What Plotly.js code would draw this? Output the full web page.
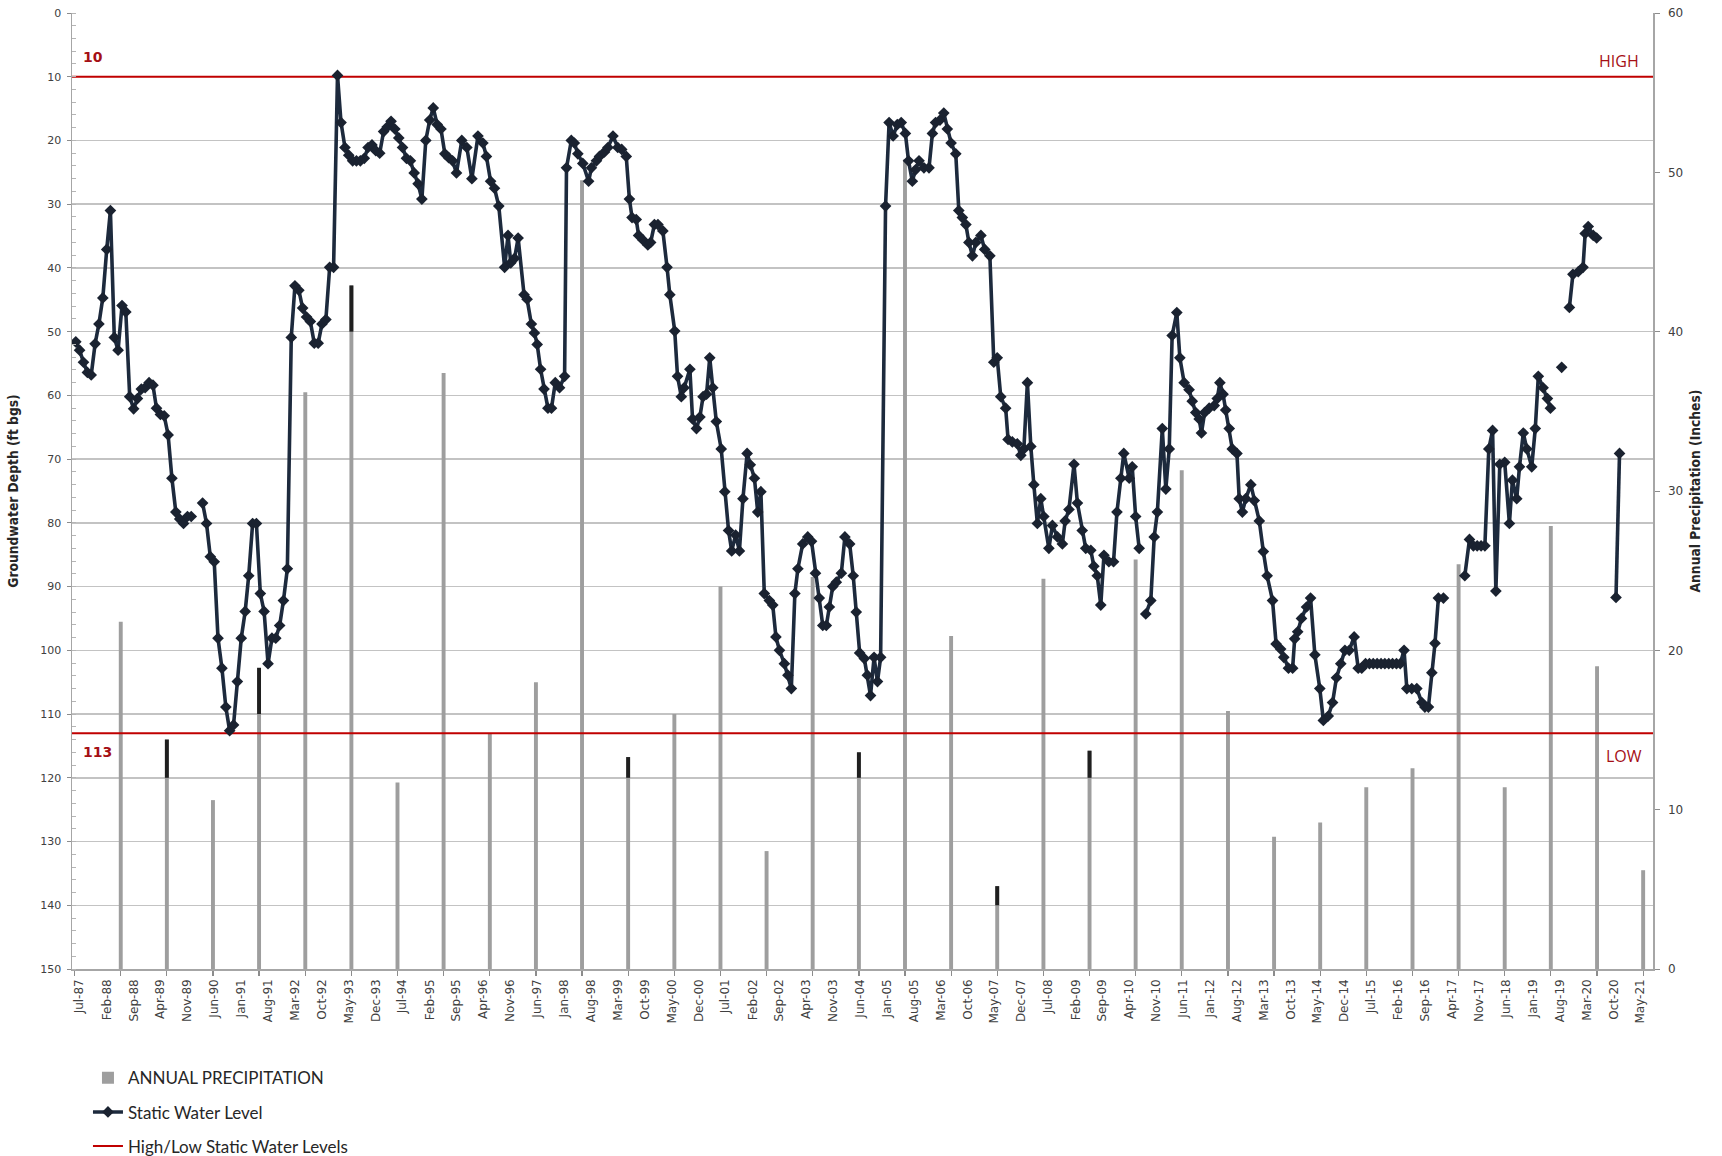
<!DOCTYPE html>
<html>
<head>
<meta charset="utf-8">
<script src="https://cdn.plot.ly/plotly-3.0.1.min.js"></script>
<style>
  html, body { margin: 0; padding: 0; background: #ffffff; }
  #chart { width: 1722px; height: 1156px; }
</style>
</head>
<body>
<div id="chart"></div>
<script>
// ---------------- DATA ----------------
// x-axis tick labels (every 7 months)
const xTickLabels = ['Jul-87','Feb-88','Sep-88','Apr-89','Nov-89','Jun-90','Jan-91','Aug-91','Mar-92','Oct-92',
  'May-93','Dec-93','Jul-94','Feb-95','Sep-95','Apr-96','Nov-96','Jun-97','Jan-98','Aug-98',
  'Mar-99','Oct-99','May-00','Dec-00','Jul-01','Feb-02','Sep-02','Apr-03','Nov-03','Jun-04',
  'Jan-05','Aug-05','Mar-06','Oct-06','May-07','Dec-07','Jul-08','Feb-09','Sep-09','Apr-10',
  'Nov-10','Jun-11','Jan-12','Aug-12','Mar-13','Oct-13','May-14','Dec-14','Jul-15','Feb-16',
  'Sep-16','Apr-17','Nov-17','Jun-18','Jan-19','Aug-19','Mar-20','Oct-20','May-21'];

// Annual precipitation (inches), one bar per year (plotted in May)
const precipYears = [1988,1989,1990,1991,1992,1993,1994,1995,1996,1997,1998,1999,2000,2001,2002,2003,2004,
  2005,2006,2007,2008,2009,2010,2011,2012,2013,2014,2015,2016,2017,2018,2019,2020,2021];
const precipInches = [21.8,14.4,10.6,18.9,36.2,42.9,11.7,37.4,14.8,18.0,49.5,13.3,16.0,24.0,7.4,24.6,13.6,
  50.8,20.9,5.2,24.5,13.7,25.7,31.3,16.2,8.3,9.2,11.4,12.6,25.4,11.4,27.8,19.0,6.2];
// years whose bar tops are drawn dark, and the level where the dark cap starts
const darkCapYears = [1989,1991,1993,1999,2004,2007,2009];
const darkCapFrom  = [12.0,16.0,40.0,12.0,12.0,4.0,12.0];

// High / low static water levels (ft bgs)
const highLowLevels = [10, 113];

// Static water level observations: months after Jun-1987, depth (ft bgs); null = gap
const wlMonths = [
  0,1,2,3,4,5,6,7,8,9,10,11,12,13,14,15,16,17,18,19,20,21,22,23,24,25,26,27,28,29,30,31.5,
  33,34,35,36,37,38,39,40,41,42,43,44,45,46,47,48,49,50,51,52,53,54,55,56,57,58,59,60,
  61,62,63,64,65,66,67,68,69,70,71,72,73,74,75,76,77,78,79,80,81,82,83,84,85,86,87,88,89,90,
  91,92,93,94,95,96,97,98,99,100.4,101.7,103.0,104.6,105.9,106.8,107.9,108.9,110.0,
  111.5,112.4,113.1,114.1,115.0,116.6,117.4,118.5,119.3,120.0,120.9,121.8,122.8,123.7,124.7,125.8,
  127.1,127.6,128.9,129.7,130.6,131.9,133.4,134.1,135.4,136.2,137.5,138.4,139.7,141.0,142.0,143.2,
  144.0,144.7,145.8,146.4,147.5,148.8,149.5,150.5,151.4,152.7,153.8,154.5,155.8,156.5,157.5,158.2,
  159.7,160.4,161.4,162.3,163.1,164.0,164.9,165.7,166.6,167.9,168.8,169.8,170.6,171.6,172.6,173.5,
  174.6,175.4,176.5,177.4,178.2,179.1,180.4,181.3,182.1,183.0,184.3,185.2,186.1,187.0,187.8,189.1,
  190.4,191.4,192.4,193.4,194.3,195.2,196.0,196.9,197.8,199.1,200.0,201.3,202.2,203.0,203.9,205.1,
  205.9,206.7,207.6,208.5,209.3,210.6,211.5,212.6,213.7,214.7,215.8,216.6,217.6,218.4,219.3,220.6,
  221.9,222.8,223.6,224.8,225.8,226.7,227.7,228.9,229.7,230.6,231.5,232.3,233.2,234.1,235.4,236.4,
  237.8,238.8,239.7,240.6,241.9,242.5,243.6,244.9,245.8,246.6,247.5,248.4,249.2,250.1,251.0,251.8,
  253.1,254.0,255.3,256.6,257.3,258.3,259.6,260.5,261.8,262.7,264.0,264.8,265.7,266.6,267.4,268.7,
  269.9,270.8,271.8,272.6,274.0,274.8,275.7,276.6,277.4,278.3,279.6,280.5,281.3,282.6,283.5,284.4,
  285.2,286.4,287.2,288.3,289.6,290.4,291.3,292.2,292.8,293.6,294.8,296.1,296.9,297.6,298.4,299.1,
  300.0,300.8,302.0,302.6,303.4,304.3,305.6,306.5,307.8,308.9,309.9,311.3,312.2,313.4,314.2,315.4,
  316.5,317.0,317.8,318.8,320.1,321.2,322.3,323.6,324.5,325.8,326.9,327.9,329.0,330.1,331.2,332.5,
  333.6,334.5,335.5,336.5,337.5,338.5,339.5,340.5,341.5,342.5,343.5,344.5,345.5,346.2,347.5,348.8,
  350.1,350.9,351.8,352.7,353.5,354.4,355.7,358,361.3,362.5,363.5,364.5,365.5,366.5,367.5,368.5,
  369.4,370.4,371.7,372.9,373.7,374.8,375.5,376.5,377.4,378.7,379.6,380.4,381.7,382.8,383.6,385,
  386.5,387.5,388.5,389.4,390.8,392.0,392.6,393.4,394.7,395.6,398,400.6,401.5];
const wlDepthFt = [
  51.6,52.9,54.8,56.4,56.8,51.9,48.8,44.7,37.1,31.0,50.9,52.9,45.9,46.9,60.2,62.1,60.5,59.0,58.8,58.0,58.4,62.0,63.0,63.2,66.2,73.0,78.3,79.4,80.1,79.0,79.0,null,
  76.9,80.1,85.3,86.1,98.1,102.8,108.9,112.6,111.7,104.9,98.1,93.9,88.3,80.1,80.1,91.1,93.9,102.1,98.1,98.1,96.1,92.2,87.2,50.9,42.8,43.5,46.3,47.7,
  48.4,51.8,51.8,48.8,48.1,39.9,39.9,9.8,17.2,21.1,22.3,23.2,23.2,23.2,22.8,21.1,20.7,21.6,22.0,18.6,17.9,17.0,18.2,19.6,21.1,22.8,23.2,25.1,26.8,29.2,
  20.0,16.8,14.9,17.5,18.2,22.1,22.7,23.2,25.1,20.0,21.1,26.0,19.3,20.4,22.5,26.4,27.5,30.3,
  39.9,34.9,39.2,38.5,35.3,44.2,44.9,48.8,50.2,52.0,55.9,59.0,62.0,62.0,58.0,58.8,
  57.0,24.3,20.0,20.4,22.1,23.6,26.4,24.3,23.2,22.5,21.8,21.1,19.3,21.1,21.4,22.5,
  29.2,32.1,32.4,34.9,35.6,36.4,36.0,33.2,33.2,34.2,39.9,44.2,49.9,57.0,60.2,58.8,
  55.9,63.7,65.2,63.4,60.2,59.8,54.1,58.8,64.1,68.4,75.1,81.2,84.4,81.9,84.4,76.2,
  69.1,70.9,73.0,78.3,75.1,91.1,92.2,92.9,97.9,100.0,102.1,103.9,106.0,91.1,87.2,83.3,
  82.2,82.9,87.9,91.8,96.1,96.1,93.2,90.0,89.3,87.9,82.2,83.3,88.3,94.0,100.4,101.3,
  103.9,107.1,101.1,104.9,101.1,30.3,17.2,19.3,17.5,17.2,18.9,23.2,26.4,24.6,23.2,24.3,
  24.3,18.9,17.2,16.8,15.7,18.2,20.4,22.1,31.0,32.1,33.2,36.0,38.1,36.0,34.9,37.1,
  38.1,54.8,54.1,60.2,62.0,66.9,67.3,67.6,69.4,68.4,58.0,68.0,74.0,80.1,76.2,79.0,
  84.0,80.4,82.2,83.3,79.7,77.9,70.8,76.9,81.2,84.0,84.3,86.8,88.3,92.9,85.1,86.1,
  86.1,78.3,73.0,69.1,73.0,71.2,79.0,84.0,null,94.3,92.2,82.2,78.3,65.2,74.7,68.4,
  50.6,47.0,54.1,58.0,59.1,60.9,62.7,63.7,65.9,62.7,62.0,61.6,60.5,58.0,59.8,62.3,
  65.2,68.4,69.1,76.2,78.3,76.2,74.0,76.5,79.7,84.5,88.3,92.2,99.0,99.8,101.1,102.8,
  102.8,98.2,97.1,95.0,93.2,91.8,100.7,106.0,111.0,110.3,108.2,104.3,102.1,100.0,100.0,97.9,
  102.8,102.8,102.1,102.1,102.1,102.1,102.1,102.1,102.1,102.1,102.1,102.1,100.0,106.0,106.0,106.0,
  108.2,108.9,108.9,103.5,98.9,91.8,91.8,null,88.3,82.6,83.6,83.6,83.6,83.6,68.4,65.5,
  90.7,70.8,70.5,80.1,73.3,76.2,71.2,65.9,68.4,71.2,65.2,57.0,58.8,60.5,62.0,null,
  55.6,null,46.2,41.0,40.6,39.9,34.6,33.5,34.9,35.3,null,91.7,69.1];

// ---------------- HELPERS ----------------
const MON = {Jan:0,Feb:1,Mar:2,Apr:3,May:4,Jun:5,Jul:6,Aug:7,Sep:8,Oct:9,Nov:10,Dec:11};
function labelToDate(lbl) {
  const [m, yy] = lbl.split('-');
  const y = parseInt(yy, 10) >= 50 ? 1900 + parseInt(yy, 10) : 2000 + parseInt(yy, 10);
  return new Date(Date.UTC(y, MON[m], 1)).toISOString().slice(0, 10);
}
function monthsToDate(off) {
  const whole = Math.floor(off), frac = off - whole;
  const a = Date.UTC(1987, 5 + whole, 1), b = Date.UTC(1987, 6 + whole, 1);
  return new Date(a + frac * (b - a)).toISOString().slice(0, 10);
}
const barDate = y => y + '-05-22';

const xRange = ['1987-05-02', '2021-08-08'];
const tickVals = xTickLabels.map(labelToDate);
const wlDates = wlMonths.map(monthsToDate);

const capX = darkCapYears.map(barDate);
const capTop = darkCapYears.map(y => precipInches[precipYears.indexOf(y)]);
const capLen = capTop.map((t, i) => t - darkCapFrom[i]);

const BAR_W = 31 * 24 * 3600 * 1000;
const RED = '#c00000';
const NAVY = '#1d2a3d';

const traces = [
  {
    type: 'bar', name: 'ANNUAL PRECIPITATION',
    x: precipYears.map(barDate), y: precipInches,
    width: BAR_W, marker: { color: '#9e9e9e', line: { width: 0 } },
    xaxis: 'x', yaxis: 'y', legendgroup: 'a', legendrank: 1
  },
  {
    type: 'bar', name: 'cap', showlegend: false,
    x: capX, y: capLen, base: darkCapFrom,
    width: BAR_W, marker: { color: '#1f1f1f', line: { width: 0 } },
    xaxis: 'x', yaxis: 'y', hoverinfo: 'skip', legendgroup: 'a'
  },
  {
    type: 'scatter', mode: 'lines', name: 'High/Low Static Water Levels',
    x: [xRange[0], xRange[1], null, xRange[0], xRange[1]],
    y: [highLowLevels[0], highLowLevels[0], null, highLowLevels[1], highLowLevels[1]],
    line: { color: RED, width: 2 },
    xaxis: 'x', yaxis: 'y2', legendgroup: 'c', legendrank: 3
  },
  {
    type: 'scatter', mode: 'lines+markers', name: 'Static Water Level',
    x: wlDates, y: wlDepthFt, connectgaps: false,
    line: { color: NAVY, width: 3.6 },
    marker: { symbol: 'diamond', size: 9, color: '#1a2230' },
    xaxis: 'x', yaxis: 'y2', legendgroup: 'b', legendrank: 2
  }
];

const tickFont = { family: 'DejaVu Sans, Verdana, sans-serif', size: 11, color: '#404040' };
const titleFont = { family: 'Liberation Sans Narrow, DejaVu Sans Condensed, Arial Narrow, sans-serif', size: 13.7, color: '#262626' };
const annFontBold = { family: 'DejaVu Sans, Verdana, sans-serif', size: 14, color: '#a50f15' };
const annFont = { family: 'Open Sans, DejaVu Sans, sans-serif', size: 16, color: '#a50f15' };

const layout = {
  width: 1722, height: 1156,
  margin: { l: 72, r: 69, t: 13, b: 187, pad: 0, autoexpand: false },
  paper_bgcolor: '#ffffff', plot_bgcolor: '#ffffff',
  barmode: 'overlay',
  showlegend: true,
  legend: {
    x: 0.0101, xanchor: 'left', y: -0.0955, yanchor: 'top',
    orientation: 'v', traceorder: 'grouped', tracegroupgap: 9,
    font: { family: 'Lato, Carlito, sans-serif', size: 17, color: '#262626' },
    bgcolor: 'rgba(0,0,0,0)', borderwidth: 0
  },
  xaxis: {
    type: 'date', range: xRange, tickmode: 'array', tickvals: tickVals, ticktext: xTickLabels,
    tickangle: -90, ticks: '', ticklabelstandoff: 4, tickfont: { ...tickFont, size: 12 },
    showgrid: false, zeroline: false, showline: true, linecolor: '#a6a6a6', linewidth: 1.5,
    minor: { ticks: 'outside', ticklen: 5, tickwidth: 1.2, tickcolor: '#8c8c8c', tick0: '1987-05-22', dtick: 'M12', showgrid: false },
    fixedrange: true
  },
  yaxis: {
    range: [0, 60], side: 'right', tick0: 0, dtick: 10,
    showgrid: false, zeroline: false, showline: true, linecolor: '#a6a6a6', linewidth: 1.5,
    ticks: 'outside', ticklen: 5, tickcolor: '#8c8c8c', ticklabelstandoff: 6,
    tickfont: { ...tickFont, size: 12 },
    title: { text: '<b>Annual Precipitation (Inches)</b>', font: titleFont, standoff: 8 },
    fixedrange: true
  },
  yaxis2: {
    overlaying: 'y', side: 'left', range: [150, 0], tick0: 0, dtick: 10,
    showgrid: true, gridcolor: '#c3c3c3', gridwidth: 1.5,
    zeroline: false, showline: true, linecolor: '#a6a6a6', linewidth: 1.5,
    ticks: 'outside', ticklen: 4, tickcolor: '#8c8c8c', ticklabelstandoff: 3,
    minor: { dtick: 2, ticks: 'inside', ticklen: 4, tickcolor: '#b5b5b5', showgrid: false },
    tickfont: tickFont,
    title: { text: '<b>Groundwater Depth (ft bgs)</b>', font: titleFont, standoff: 18 },
    fixedrange: true
  },
  annotations: [
    { text: '<b>' + highLowLevels[0] + '</b>', xref: 'paper', x: 0.0057, xanchor: 'left',
      yref: 'y2', y: highLowLevels[0], yanchor: 'bottom', yshift: 10, showarrow: false, font: annFontBold },
    { text: '<b>' + highLowLevels[1] + '</b>', xref: 'paper', x: 0.0057, xanchor: 'left',
      yref: 'y2', y: highLowLevels[1], yanchor: 'top', yshift: -9, showarrow: false, font: annFontBold },
    { text: 'HIGH', xref: 'paper', x: 0.9924, xanchor: 'right',
      yref: 'y2', y: highLowLevels[0], yanchor: 'bottom', yshift: 3, showarrow: false, font: annFont },
    { text: 'LOW', xref: 'paper', x: 0.9943, xanchor: 'right',
      yref: 'y2', y: highLowLevels[1], yanchor: 'top', yshift: -10, showarrow: false, font: annFont }
  ]
};

Plotly.newPlot('chart', traces, layout, { displayModeBar: false, staticPlot: true });
</script>
</body>
</html>
